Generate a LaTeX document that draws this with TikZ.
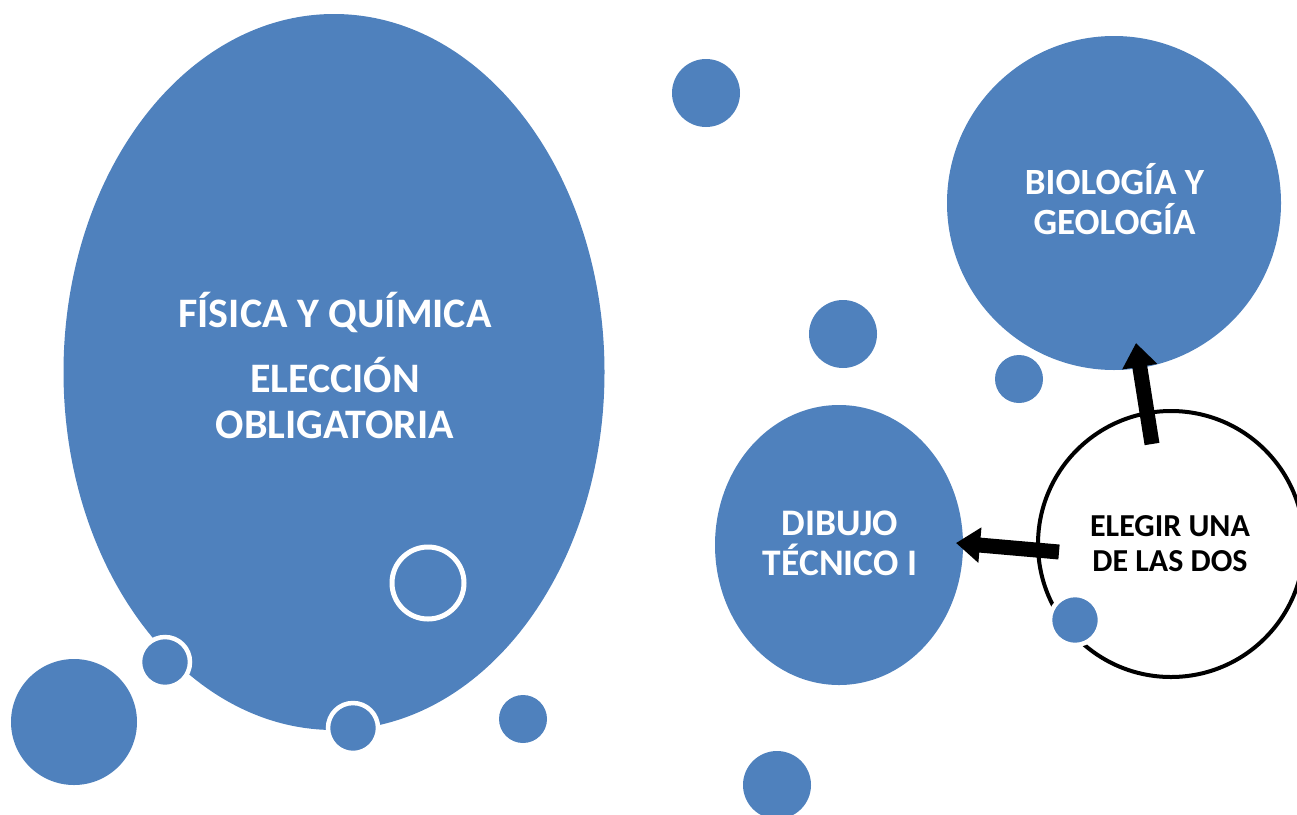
\documentclass[tikz,border=0pt]{standalone}
\usepackage{fontspec}
\setmainfont{Carlito}
\usetikzlibrary{arrows.meta,shapes.geometric}
\definecolor{bub}{HTML}{4F81BD}
\tikzset{
  bubble/.style={circle, fill=bub, inner sep=0pt, minimum size=#1},
  ringed/.style={circle, fill=bub, draw=white, line width=4.5pt, inner sep=0pt, minimum size=#1},
  whitetext/.style={text=white, align=center, anchor=base, inner sep=0pt},
  blacktext/.style={text=black, font=\fontsize{32}{34.5}\selectfont\bfseries, align=center, anchor=base, inner sep=0pt},
  fatarrow/.style={line width=15pt, -{Triangle[width=34pt,length=24pt]}, black},
}
\begin{document}
\begin{tikzpicture}[x=1pt,y=-1pt]
\useasboundingbox (0,0) rectangle (1297,814);
% big ellipse
\node[ellipse, fill=bub, minimum width=541pt, minimum height=716pt, inner sep=0pt] (fq) at (334,372) {};
\node[whitetext, font=\fontsize{42}{46}\selectfont\bfseries] (fqt1) at (335,327) {FÍSICA Y QUÍMICA};
\node[whitetext, font=\fontsize{42}{46}\selectfont\bfseries] (fqt2) at (335,438) {ELECCIÓN\\OBLIGATORIA};
% decorative bubbles
\node[ringed=72pt, line width=5pt] (r1) at (428,583) {};
\node[ringed=50pt] (s1) at (165,662) {};
\node[ringed=50pt] (s2) at (353,728) {};
\node[bubble=126pt] (b1) at (74,722) {};
\node[bubble=48pt] (b2) at (523,719) {};
\node[bubble=68pt] (b3) at (706,93) {};
\node[bubble=68pt] (b4) at (843,334) {};
\node[bubble=48pt] (b5) at (1019,379) {};
\node[bubble=68pt] (b6) at (777,785) {};
% biologia
\node[circle, fill=bub, minimum size=334pt, inner sep=0pt] (bg) at (1114,203) {};
\node[whitetext, font=\fontsize{37}{39.5}\selectfont\bfseries] (bgt) at (1114.5,234) {BIOLOGÍA Y\\GEOLOGÍA};
% dibujo
\node[ellipse, fill=bub, minimum width=248pt, minimum height=280pt, inner sep=0pt] (dt) at (839,545) {};
\node[whitetext, font=\fontsize{37.5}{40}\selectfont\bfseries] (dtt) at (840,575) {DIBUJO\\TÉCNICO I};
% elegir
\node[circle, draw=black, line width=4pt, fill=white, minimum size=266pt, inner sep=0pt] (el) at (1171,544) {};
\node[blacktext] (elt) at (1170,571) {ELEGIR UNA\\DE LAS DOS};
\node[ringed=50pt] (s3) at (1075,620) {};
% arrows
\coordinate (a1s) at (1152,444);
\coordinate (a1e) at (1136,343);
\coordinate (a2s) at (1059,552);
\coordinate (a2e) at (956,543);
\draw[fatarrow] (a1s) -- (a1e);
\draw[fatarrow] (a2s) -- (a2e);
\end{tikzpicture}
\end{document}
